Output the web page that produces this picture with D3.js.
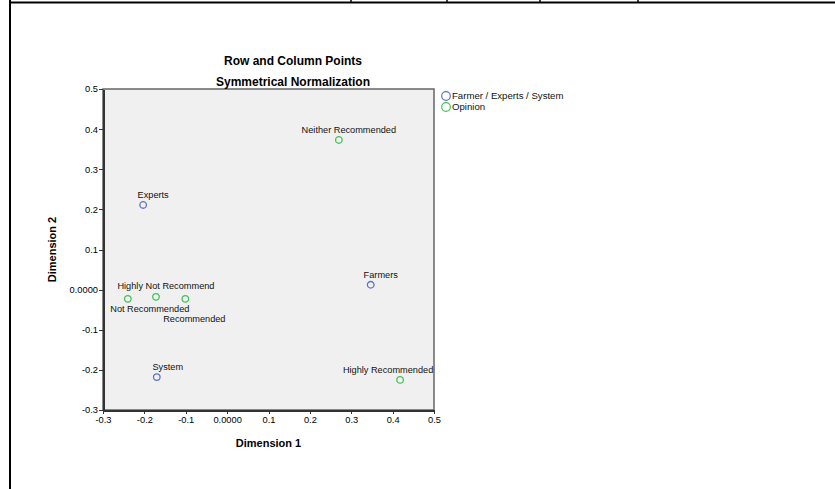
<!DOCTYPE html>
<html>
    <head>
        <meta charset="utf-8">
        <style>
        html, body {
            margin: 0px;
            background: #fff;
        }
        svg {
            display: block;
            font-family: Arial, "Liberation Sans", sans-serif;
        }
        .axis text {
            font: 9.3px Arial, "Liberation Sans", sans-serif;
            fill: #000;
        }
        .axis path,
        .axis line {
            fill: none;
            stroke: #333;
            shape-rendering: crispEdges;
        }
        </style>
    </head>
    <body>
        <svg class="chart" width="835" height="489"></svg>
        <script src="https://d3js.org/d3.v7.min.js"></script>
        <script>
            // row points (Farmer / Experts / System)
            var rowLabels = ["Farmers", "Experts", "System"];
            var rowDim1 = [0.347, -0.203, -0.170];
            var rowDim2 = [0.012, 0.211, -0.218];

            // column points (Opinion)
            var colLabels = ["Highly Recommended", "Recommended", "Neither Recommended", "Not Recommended", "Highly Not Recommend"];
            var colDim1 = [0.418, -0.101, 0.270, -0.240, -0.172];
            var colDim2 = [-0.225, -0.023, 0.373, -0.023, -0.018];

            var tickValues = [-0.3, -0.2, -0.1, 0.0, 0.1, 0.2, 0.3, 0.4, 0.5];
            var legendLabels = ["Farmer / Experts / System", "Opinion"];
            var colors = ["#5f72c9", "#45c15a"];

            var svg = d3.select(".chart");

            // page frame (table borders)
            svg.append("line").attr("x1", 10).attr("x2", 10).attr("y1", 0).attr("y2", 489)
               .attr("stroke", "#000").attr("stroke-width", 2);
            svg.append("line").attr("x1", 10).attr("x2", 835).attr("y1", 2.5).attr("y2", 2.5)
               .attr("stroke", "#000").attr("stroke-width", 2);
            [351, 447, 540, 638].forEach(function(x) {
                svg.append("line").attr("x1", x).attr("x2", x).attr("y1", 0).attr("y2", 3)
                   .attr("stroke", "#000").attr("stroke-width", 1.5);
            });

            var margin = {top: 89, left: 103},
                width = 331,
                height = 321;

            var x = d3.scaleLinear().domain([-0.3, 0.5]).range([0, width]);
            var y = d3.scaleLinear().domain([-0.3, 0.5]).range([height, 0]);

            var fmt = function(d) {
                if (Math.abs(d) < 1e-9) return "0.0000";
                return d.toFixed(1);   // plain hyphen minus, like SPSS
            };

            var chart = svg.append("g")
                           .attr("transform", "translate(" + margin.left + "," + margin.top + ")");

            chart.append("rect")
                 .attr("width", width).attr("height", height)
                 .attr("fill", "#f0f0f0")
                 .attr("stroke", "#666").attr("stroke-width", 1.5);

            var xAxis = d3.axisBottom(x).tickValues(tickValues).tickFormat(fmt).tickSize(4).tickSizeOuter(0);
            var yAxis = d3.axisLeft(y).tickValues(tickValues).tickFormat(fmt).tickSize(4).tickSizeOuter(0);

            chart.append("g")
                 .attr("class", "x axis")
                 .attr("transform", "translate(0," + height + ")")
                 .call(xAxis)
                 .call(function(g) { g.selectAll("text").attr("dy", "0.6em"); });

            chart.append("g")
                 .attr("class", "y axis")
                 .call(yAxis)
                 .call(function(g) { g.selectAll("text").attr("x", -5); });

            chart.selectAll(".axis path").attr("stroke-width", 2);

            // titles
            svg.append("text").attr("x", 293).attr("y", 65).attr("text-anchor", "middle")
               .attr("font-size", 12).attr("font-weight", "bold").text("Row and Column Points");
            svg.append("text").attr("x", 293).attr("y", 86).attr("text-anchor", "middle")
               .attr("font-size", 12).attr("font-weight", "bold").text("Symmetrical Normalization");
            svg.append("text").attr("x", margin.left + width / 2).attr("y", 447).attr("text-anchor", "middle")
               .attr("font-size", 11).attr("font-weight", "bold").text("Dimension 1");
            svg.append("text").attr("transform", "translate(56," + (margin.top + height / 2) + ") rotate(-90)")
               .attr("text-anchor", "middle")
               .attr("font-size", 11).attr("font-weight", "bold").text("Dimension 2");

            var rows = rowLabels.map(function(l, i) { return {label: l, d1: rowDim1[i], d2: rowDim2[i], s: 0}; });
            var cols = colLabels.map(function(l, i) { return {label: l, d1: colDim1[i], d2: colDim2[i], s: 1}; });
            var points = rows.concat(cols);

            // label offsets (px) relative to each point
            var labelOffset = {
                "Farmers": [10, -7],
                "Experts": [10, -7],
                "System": [11, -7],
                "Highly Recommended": [-12, -7],
                "Recommended": [9, 23],
                "Neither Recommended": [10, -7],
                "Not Recommended": [22, 13],
                "Highly Not Recommend": [10, -8]
            };

            var pt = chart.selectAll("g.pt")
                          .data(points)
                          .enter().append("g")
                          .attr("class", "pt")
                          .attr("transform", function(d) { return "translate(" + x(d.d1) + "," + y(d.d2) + ")"; });

            pt.append("circle")
              .attr("r", 3.3)
              .attr("fill", "none")
              .attr("stroke", function(d) { return colors[d.s]; })
              .attr("stroke-width", 1.3);

            pt.append("text")
              .attr("x", function(d) { return labelOffset[d.label][0]; })
              .attr("y", function(d) { return labelOffset[d.label][1]; })
              .attr("text-anchor", "middle")
              .attr("font-size", 9.2)
              .attr("fill", "#111")
              .text(function(d) { return d.label; });

            // legend
            var legend = svg.selectAll("g.legend")
                            .data(legendLabels)
                            .enter().append("g")
                            .attr("class", "legend")
                            .attr("transform", function(d, i) { return "translate(446," + (96 + i * 11) + ")"; });

            legend.append("circle")
                  .attr("r", 4.3)
                  .attr("fill", "none")
                  .attr("stroke", function(d, i) { return colors[i]; })
                  .attr("stroke-width", 1.2);

            legend.append("text")
                  .attr("x", 6).attr("y", 3.3)
                  .attr("font-size", 9.6)
                  .attr("fill", "#111")
                  .text(function(d) { return d; });
        </script>
    </body>
</html>
